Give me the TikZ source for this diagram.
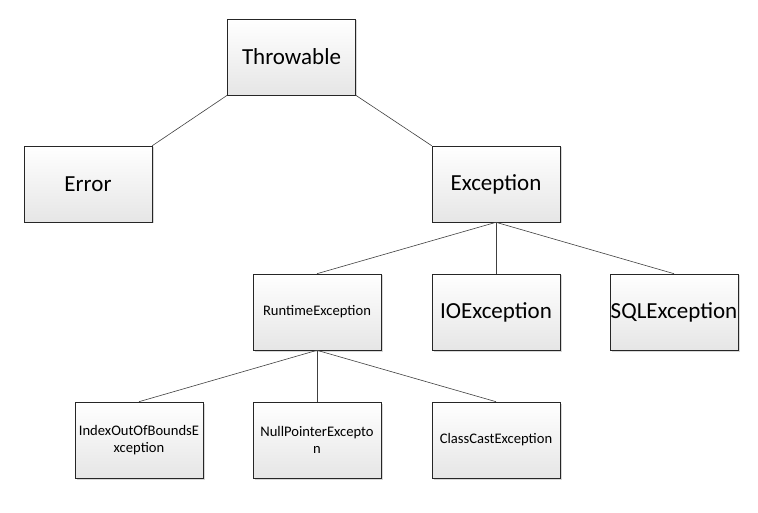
\documentclass[tikz,border=0pt]{standalone}
\usepackage{fontspec}
\setmainfont{Carlito}
\usetikzlibrary{shadows}
\begin{document}
\begin{tikzpicture}[x=1pt,y=-1pt,
  box/.style={draw=black!85, line width=0.6pt, minimum width=128pt, minimum height=76pt,
    inner sep=0pt, top color=white, bottom color=black!10, align=center,
    drop shadow={shadow xshift=1.5pt, shadow yshift=-1.5pt, fill=black!25, opacity=0.6}},
  big/.style={box, font=\fontsize{23}{27}\selectfont},
  small/.style={box, font=\fontsize{14.6}{17}\selectfont},
  link/.style={draw=black!75, line width=0.6pt}]
\useasboundingbox (0,0) rectangle (758,513);
\fill[white] (0,0) rectangle (758,513);
\node[big] (thr) at (291.5,57) {Throwable};
\node[big] (err) at (88,184) {Error};
\node[big] (exc) at (496,184) {Exception};
\node[small] (rte) at (317,312) {RuntimeException};
\node[big] (ioe) at (496,312) {IOException};
\node[big] (sql) at (674,312) {SQLException};
\node[small] (idx) at (139,440) {IndexOutOfBoundsE\\xception};
\node[small] (npe) at (317,440) {NullPointerExcepto\\n};
\node[small] (cce) at (496,440) {ClassCastException};
\draw[link] (thr.south west) -- (err.north east);
\draw[link] (thr.south east) -- (exc.north west);
\draw[link] (exc.south) -- (rte.north);
\draw[link] (exc.south) -- (ioe.north);
\draw[link] (exc.south) -- (sql.north);
\draw[link] (rte.south) -- (idx.north);
\draw[link] (rte.south) -- (npe.north);
\draw[link] (rte.south) -- (cce.north);
\end{tikzpicture}
\end{document}
